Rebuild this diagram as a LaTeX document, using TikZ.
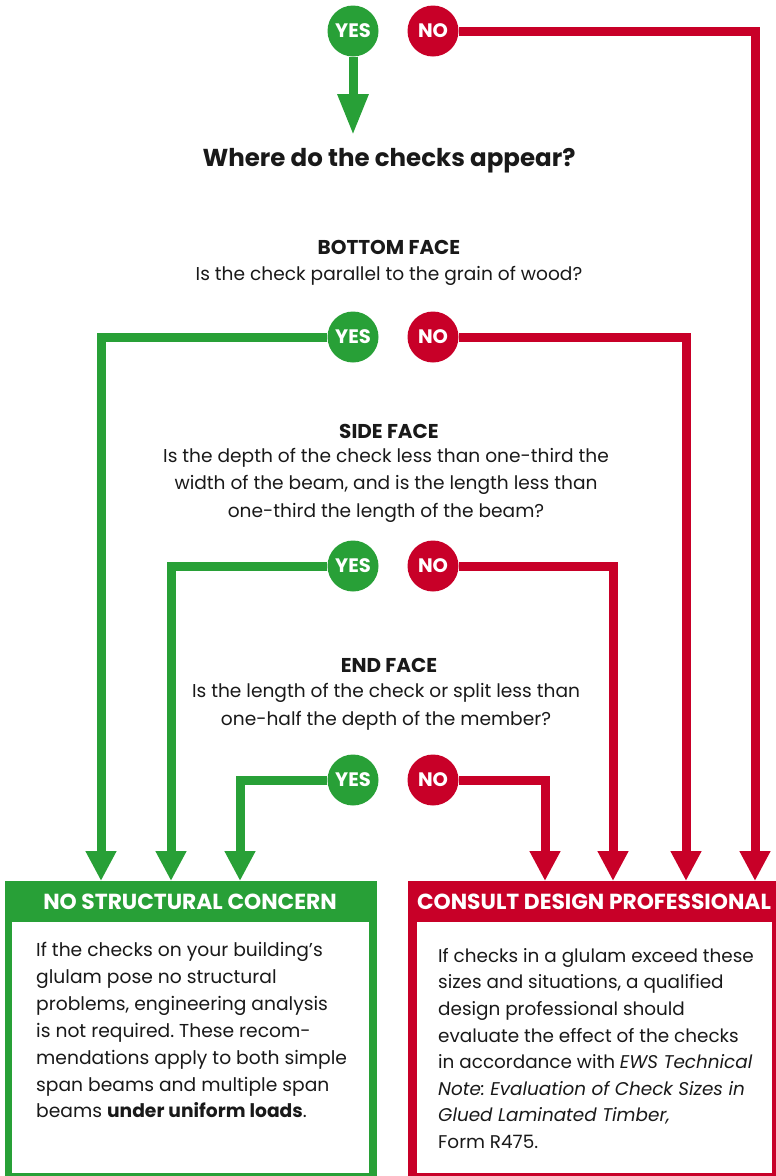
\documentclass[tikz,border=0pt]{standalone}
\usepackage{fontspec}
\setmainfont{Poppins}
\usetikzlibrary{arrows.meta}
\definecolor{yesgreen}{RGB}{40,160,55}
\definecolor{nored}{RGB}{200,0,40}
\definecolor{inkgray}{RGB}{25,25,25}
\frenchspacing

\begin{document}
\begin{tikzpicture}[x=1pt,y=-1pt,
  yes/.style={circle, fill=yesgreen, text=white, minimum size=51pt, inner sep=0pt, font=\fontsize{19.5}{19.5}\selectfont\bfseries},
  no/.style={circle, fill=nored, text=white, minimum size=51pt, inner sep=0pt, font=\fontsize{19.5}{19.5}\selectfont\bfseries},
  yesline/.style={draw=yesgreen, line width=9pt, -{Triangle[length=30pt,width=29pt]}},
  noline/.style={draw=nored, line width=9pt, -{Triangle[length=30pt,width=29pt]}},
  face/.style={text=inkgray, font=\fontsize{20}{20}\selectfont\bfseries},
  ask/.style={text=inkgray, align=center, font=\fontsize{18.6}{27.5}\selectfont},
  head/.style={text=white, font=\fontsize{21.8}{21.8}\selectfont\bfseries},
  body/.style={text=inkgray, align=left, anchor=north west, inner sep=0pt}]
\useasboundingbox (0,0) rectangle (776,1176);
% arrow ends on the box tops
\coordinate (top) at (353,135);
\coordinate (g2) at (101,881);
\coordinate (g3) at (171,881);
\coordinate (g4) at (240,881);
\coordinate (r1) at (755,881);
\coordinate (r2) at (686,881);
\coordinate (r3) at (613,881);
\coordinate (r4) at (545,881);
% boxes
\fill[yesgreen] (5,881) rectangle (377,1176);
\fill[white] (12,922) rectangle (369,1173);
\fill[nored] (408,881) rectangle (776,1176);
\fill[white] (417,922) rectangle (772,1173);
\node[head] (nsc) at (190,902) {NO STRUCTURAL CONCERN};
\node[head] (cdp) at (594,902) {CONSULT DESIGN PROFESSIONAL};
\node[body, font=\fontsize{18.7}{26.9}\selectfont] (nsctext) at (36,942) {If the checks on your building’s\\
  glulam pose no structural\\
  problems, engineering analysis\\
  is not required. These recom-\\
  mendations apply to both simple\\
  span beams and multiple span\\
  beams \textbf{under uniform loads}.};
\node[body, font=\fontsize{18.4}{26.6}\selectfont] (cdptext) at (438,948) {If checks in a glulam exceed these\\
  sizes and situations, a qualified\\
  design professional should\\
  evaluate the effect of the checks\\
  in accordance with \textit{EWS Technical}\\
  \textit{Note: Evaluation of Check Sizes in}\\
  \textit{Glued Laminated Timber,}\\
  Form R475.};
% questions
\node[text=inkgray, font=\fontsize{24.5}{24.5}\selectfont\bfseries] (where) at (389,161) {Where do the checks appear?};
\node[face] (bottom) at (389,247) {BOTTOM FACE};
\node[ask] (bottomq) at (389,276) {Is the check parallel to the grain of wood?};
\node[face] (side) at (389,431) {SIDE FACE};
\node[ask] (sideq) at (386,485) {Is the depth of the check less than one-third the\\
  width of the beam, and is the length less than\\
  one-third the length of the beam?};
\node[face] (end) at (389,665) {END FACE};
\node[ask] (endq) at (386,707) {Is the length of the check or split less than\\
  one-half the depth of the member?};
% yes and no marks
\node[yes] (yes1) at (353,31) {YES};
\node[no] (no1) at (433,31) {NO};
\node[yes] (yes2) at (353,337) {YES};
\node[no] (no2) at (433,337) {NO};
\node[yes] (yes3) at (353,566) {YES};
\node[no] (no3) at (433,566) {NO};
\node[yes] (yes4) at (353,780) {YES};
\node[no] (no4) at (433,780) {NO};
% connectors
\draw[yesgreen, line width=9pt, -{Triangle[length=41pt,width=29pt]}] (yes1) -- (top);
\draw[noline] (no1) -| (r1);
\draw[yesline] (yes2) -| (g2);
\draw[noline] (no2) -| (r2);
\draw[yesline] (yes3) -| (g3);
\draw[noline] (no3) -| (r3);
\draw[yesline] (yes4) -| (g4);
\draw[noline] (no4) -| (r4);
\end{tikzpicture}
\end{document}
